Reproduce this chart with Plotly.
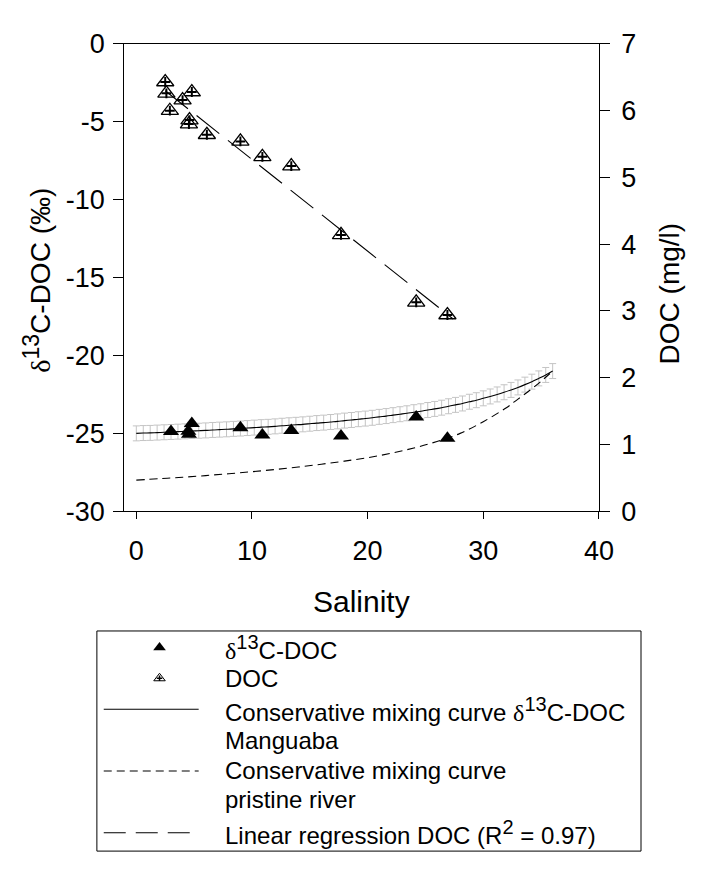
import plotly.graph_objects as go

# ---------------- data ----------------
d13c_sal = [3.0, 4.5, 4.55, 4.8, 9.0, 10.9, 13.4, 17.7, 24.2, 26.9]
d13c_val = [-24.88, -24.87, -25.05, -24.37, -24.64, -25.10, -24.82, -25.17, -23.95, -25.31]

doc_sal = [2.5, 2.6, 4.8, 4.0, 2.9, 4.6, 4.55, 6.1, 9.0, 10.9, 13.4, 17.7, 24.2, 26.9]
doc_val = [6.43, 6.26, 6.28, 6.16, 6.00, 5.86, 5.80, 5.64, 5.54, 5.31, 5.17, 4.14, 3.13, 2.94]

reg_sal = [2.5, 27.4]
reg_doc = [6.30, 2.88]

mix_sal = [0.0, 0.6, 1.2, 1.8, 2.4, 3.0, 3.6, 4.2, 4.8, 5.4, 6.0, 6.6, 7.2, 7.8, 8.4,
           9.0, 9.6, 10.2, 10.8, 11.4, 12.0, 12.6, 13.2, 13.8, 14.4, 15.0, 15.6, 16.2,
           16.8, 17.4, 18.0, 18.6, 19.2, 19.8, 20.4, 21.0, 21.6, 22.2, 22.8, 23.4, 24.0,
           24.6, 25.2, 25.8, 26.4, 27.0, 27.6, 28.2, 28.8, 29.4, 30.0, 30.6, 31.2, 31.8,
           32.4, 33.0, 33.6, 34.2, 34.8, 35.4, 36.0]
mix_val = [-25.00, -24.98, -24.97, -24.95, -24.93, -24.91, -24.89, -24.87, -24.85, -24.83,
           -24.81, -24.78, -24.76, -24.74, -24.71, -24.69, -24.66, -24.63, -24.60, -24.58,
           -24.55, -24.51, -24.48, -24.45, -24.42, -24.38, -24.34, -24.31, -24.27, -24.23,
           -24.18, -24.14, -24.09, -24.05, -24.00, -23.94, -23.89, -23.83, -23.77, -23.71,
           -23.64, -23.58, -23.50, -23.43, -23.35, -23.26, -23.17, -23.08, -22.97, -22.87,
           -22.75, -22.63, -22.50, -22.36, -22.21, -22.05, -21.87, -21.68, -21.47, -21.25,
           -21.00]
mix_err = 0.48

prist_sal = [0, 2, 4, 6, 8, 10, 12, 14, 16, 18, 20, 22, 24, 26, 28, 30, 32, 33, 34, 35, 36]
prist_val = [-28.0, -27.91, -27.82, -27.71, -27.59, -27.46, -27.32, -27.16, -26.98, -26.78,
             -26.56, -26.28, -25.94, -25.52, -25.0, -24.25, -23.35, -22.8, -22.25, -21.65, -21.0]

x_ticks = [0, 10, 20, 30, 40]
y_ticks = [0, -5, -10, -15, -20, -25, -30]
y_ticklabels = ["0", "-5", "-10", "-15", "-20", "-25", "-30"]
y2_ticks = [0, 1, 2, 3, 4, 5, 6, 7]

# ---------------- layout constants ----------------
W, H = 702, 869
PL, PR, PT, PB = 127, 612, 30, 514
FONT = "Liberation Sans, Arial, sans-serif"
TICK_SIZE = 27
TITLE_SIZE = 28
LEG_SIZE = 24


def delta13(sup_px):
    return ('<span style="font-family:Liberation Serif">δ</span>'
            '<sup><span style="font-size:%dpx">13</span></sup>' % sup_px)


fig = go.Figure()

# error bars of the Manguaba mixing curve
fig.add_trace(go.Scatter(x=mix_sal, y=mix_val, mode="markers",
                         marker=dict(size=1, color="rgba(0,0,0,0)"),
                         error_y=dict(type="constant", value=mix_err, color="#c4c4c4",
                                      thickness=1, width=3.5),
                         hoverinfo="skip"))
# Manguaba mixing curve
fig.add_trace(go.Scatter(x=mix_sal, y=mix_val, mode="lines",
                         line=dict(color="black", width=1.1, shape="spline")))
# pristine river curve
fig.add_trace(go.Scatter(x=prist_sal, y=prist_val, mode="lines",
                         line=dict(color="black", width=1.1, dash="8px,5px", shape="spline")))
# d13C points
fig.add_trace(go.Scatter(x=d13c_sal, y=d13c_val, mode="markers",
                         marker=dict(symbol="triangle-up", size=14, color="black")))
# DOC points (right axis)
fig.add_trace(go.Scatter(x=doc_sal, y=doc_val, yaxis="y2", mode="markers",
                         marker=dict(symbol="triangle-up", size=15, color="white",
                                     line=dict(color="black", width=1.3))))
fig.add_trace(go.Scatter(x=doc_sal, y=doc_val, yaxis="y2", mode="markers",
                         marker=dict(symbol="cross-thin", size=7,
                                     line=dict(color="black", width=2))))
fig.add_trace(go.Scatter(x=reg_sal, y=reg_doc, yaxis="y2", mode="lines",
                         line=dict(color="black", width=1.1, dash="29px,11px")))

# ---------------- manual legend (pixel coordinates on hidden axes) ----------------
LEG_MX = 163
LEG_TX = 228
row_y = [655, 687, 719, 751, 783, 813, 847]
fig.add_trace(go.Scatter(x=[LEG_MX], y=[row_y[0]], xaxis="x3", yaxis="y3", mode="markers",
                         marker=dict(symbol="triangle-up", size=11, color="black")))
fig.add_trace(go.Scatter(x=[LEG_MX], y=[row_y[1]], xaxis="x3", yaxis="y3", mode="markers",
                         marker=dict(symbol="triangle-up", size=10, color="white",
                                     line=dict(color="black", width=1))))
fig.add_trace(go.Scatter(x=[LEG_MX], y=[row_y[1]], xaxis="x3", yaxis="y3", mode="markers",
                         marker=dict(symbol="cross-thin", size=4,
                                     line=dict(color="black", width=1.5))))

shapes = [
    dict(type="rect", xref="x3", yref="y3", x0=99, x1=655, y0=638, y1=866,
         line=dict(color="black", width=1)),
    dict(type="line", xref="x3", yref="y3", x0=106, x1=203, y0=row_y[2], y1=row_y[2],
         line=dict(color="black", width=1.1)),
    dict(type="line", xref="x3", yref="y3", x0=106, x1=203, y0=row_y[4], y1=row_y[4],
         line=dict(color="black", width=1.1, dash="8px,5px")),
    dict(type="line", xref="x3", yref="y3", x0=106, x1=203, y0=row_y[6], y1=row_y[6],
         line=dict(color="black", width=1.1, dash="22px,10px")),
]

leg_texts = [
    delta13(20) + "C-DOC",
    "DOC",
    "Conservative mixing curve " + delta13(20) + "C-DOC",
    "Manguaba",
    "Conservative mixing curve",
    "pristine river",
    'Linear regression DOC (R<sup><span style="font-size:20px">2</span></sup> = 0.97)',
]
annotations = []
for t, yy in zip(leg_texts, row_y):
    annotations.append(dict(text=t, x=LEG_TX, y=yy, xref="x3", yref="y3",
                            xanchor="left", yanchor="middle", showarrow=False,
                            font=dict(size=LEG_SIZE, color="black", family=FONT)))

# axis titles
annotations.append(dict(text="Salinity", x=(PL + PR) / 2, y=607, xref="x3", yref="y3",
                        showarrow=False, xanchor="center", yanchor="middle",
                        font=dict(size=TITLE_SIZE + 2, color="black", family=FONT)))
annotations.append(dict(text=delta13(23) + "C-DOC (‰)", x=38, y=275, xref="x3",
                        yref="y3", textangle=-90, showarrow=False, xanchor="center",
                        yanchor="middle",
                        font=dict(size=TITLE_SIZE, color="black", family=FONT)))
annotations.append(dict(text="DOC (mg/l)", x=684, y=288, xref="x3", yref="y3",
                        textangle=-90, showarrow=False, xanchor="center", yanchor="middle",
                        font=dict(size=TITLE_SIZE, color="black", family=FONT)))

axis_common = dict(ticks="outside", tickwidth=1, tickcolor="black", showline=True,
                   linecolor="black", linewidth=1, showgrid=False, zeroline=False,
                   tickfont=dict(size=TICK_SIZE, color="black", family=FONT),
                   fixedrange=True)

fig.update_layout(
    width=W, height=H, margin=dict(l=0, r=0, t=0, b=0),
    paper_bgcolor="white", plot_bgcolor="rgba(0,0,0,0)", showlegend=False,
    font=dict(family=FONT, color="black"),
    xaxis=dict(domain=[PL / W, PR / W], range=[-1.04, 40], tickvals=x_ticks,
               ticklen=7, mirror=True, anchor="y", ticklabelstandoff=8, **axis_common),
    yaxis=dict(domain=[1 - PB / H, 1 - PT / H], range=[-30, 0], tickvals=y_ticks,
               ticktext=y_ticklabels, ticklen=10, anchor="x", ticklabelstandoff=3,
               **axis_common),
    yaxis2=dict(overlaying="y", side="right", anchor="x", range=[0, 7], tickvals=y2_ticks,
                ticklen=10, ticklabelstandoff=6, **axis_common),
    xaxis3=dict(domain=[0, 1], range=[0, W], visible=False, anchor="y3", fixedrange=True),
    yaxis3=dict(domain=[0, 1], range=[H, 0], visible=False, anchor="x3", fixedrange=True),
    shapes=shapes,
    annotations=annotations,
)

fig.write_html("out.html")
